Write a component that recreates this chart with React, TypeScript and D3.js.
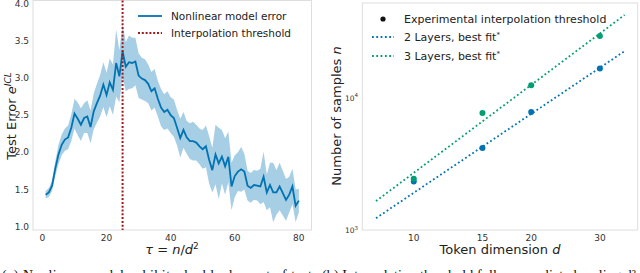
import React from "react";
import * as d3 from "d3";

// left panel: mean test error and spread, one value per tau = 1..80
const errMean = [
  1.43, 1.46, 1.55, 1.78, 1.97, 2.1, 2.17, 2.2, 2.33, 2.52,
  2.45, 2.37, 2.46, 2.48, 2.34, 2.55, 2.66, 2.76, 2.91, 2.77,
  2.94, 2.84, 3.2, 3.02, 3.36, 3.15, 3.21, 3.2, 3.22, 3.03,
  2.99, 2.97, 2.92, 2.82, 2.86, 2.72, 2.6, 2.54, 2.57, 2.5,
  2.46, 2.33, 2.19, 2.3, 2.2, 2.15, 2.15, 2.13, 2.08, 2.04,
  2.08, 1.9, 1.76, 1.97, 1.85, 1.94, 1.81, 1.94, 1.54, 1.68,
  1.74, 1.77, 1.74, 1.55, 1.52, 1.56, 1.55, 1.54, 1.67, 1.46,
  1.56, 1.46, 1.46, 1.54, 1.45, 1.36, 1.43, 1.54, 1.28, 1.35,
];
const errStd = [
  0.05, 0.06, 0.07, 0.1, 0.13, 0.14, 0.15, 0.16, 0.18, 0.2,
  0.22, 0.22, 0.2, 0.22, 0.22, 0.24, 0.26, 0.28, 0.3, 0.3,
  0.32, 0.34, 0.45, 0.35, 0.36, 0.33, 0.36, 0.34, 0.32, 0.3,
  0.28, 0.28, 0.26, 0.26, 0.26, 0.24, 0.25, 0.24, 0.25, 0.24,
  0.25, 0.24, 0.26, 0.24, 0.22, 0.24, 0.26, 0.24, 0.24, 0.26,
  0.28, 0.32, 0.3, 0.4, 0.48, 0.36, 0.38, 0.34, 0.32, 0.28,
  0.26, 0.3, 0.24, 0.2, 0.2, 0.2, 0.2, 0.24, 0.34, 0.24,
  0.3, 0.4, 0.3, 0.32, 0.3, 0.28, 0.24, 0.24, 0.22, 0.16,
];
const threshold = 25;
const leftXTicks = [0, 20, 40, 60, 80];
const leftYTicks = [1.0, 1.5, 2.0, 2.5, 3.0, 3.5, 4.0];

// right panel: interpolation threshold vs token dimension
const dims = [10, 15, 20, 30];
const n2Layers = [2330, 4170, 7800, 16640];
const n3Layers = [2445, 7680, 12450, 29250];
const fitDims = [8, 34.7];
const fit2Layers = [1228, 22490];
const fit3Layers = [1653, 42200];
const rightXTicks = [10, 15, 20, 30];
const rightYTicks = [1000, 10000];

const blue = "#0173b2";
const green = "#029e73";
const red = "#9e1a1a";
const tickColor = "#333";
const frameColor = "#dedede";
const font = "DejaVu Sans";

export default function App() {
  const xL = d3.scaleLinear().domain([-2.95, 83.95]).range([33, 311.5]);
  const yL = d3.scaleLinear().domain([0.955, 4.04]).range([230, 0.5]);

  const xR = d3.scaleLog().domain([7.38, 37.5]).range([362.3, 637.7]);
  const yR = d3.scaleLog().domain([1000, 52000]).range([230, 3]);

  const pts = errMean.map((m, i) => ({ t: i + 1, m, s: errStd[i] }));
  const line = d3
    .line<any>()
    .x((d) => xL(d.t))
    .y((d) => yL(d.m));
  const band = d3
    .area<any>()
    .x((d) => xL(d.t))
    .y0((d) => yL(d.m - d.s))
    .y1((d) => yL(d.m + d.s));

  const fitLine = d3
    .line<any>()
    .x((d) => xR(d[0]))
    .y((d) => yR(d[1]));

  return (
    <svg
      width={640}
      height={273}
      style={{ position: "absolute", left: 0, top: 0, background: "#fff" }}
      fontFamily={font}
    >
      {/* Left panel */}
      <rect
        x={33}
        y={0.5}
        width={311.5 - 33}
        height={229.5}
        fill="none"
        stroke={frameColor}
      />
      <path d={band(pts) || ""} fill={blue} fillOpacity={0.35} />
      <path d={line(pts) || ""} fill="none" stroke={blue} strokeWidth={1.8} />
      <line
        x1={xL(threshold)}
        x2={xL(threshold)}
        y1={0.5}
        y2={230}
        stroke={red}
        strokeWidth={2}
        strokeDasharray="2 1.8"
      />
      {leftXTicks.map((t) => (
        <text key={t} x={xL(t)} y={240.5} fontSize={9} fill={tickColor} textAnchor="middle">
          {t}
        </text>
      ))}
      {leftYTicks.map((t) => (
        <text key={t} x={29} y={yL(t) + 3.2} fontSize={9} fill={tickColor} textAnchor="end">
          {t.toFixed(1)}
        </text>
      ))}
      <text x={172} y={254} fontSize={13} textAnchor="middle" fill="#222">
        <tspan fontStyle="italic">τ</tspan> = <tspan fontStyle="italic">n</tspan>/
        <tspan fontStyle="italic">d</tspan>
        <tspan fontSize={9} dy={-5}>2</tspan>
      </text>
      <text transform="translate(16,116) rotate(-90)" fontSize={13} textAnchor="middle" fill="#222">
        Test Error <tspan fontStyle="italic">e</tspan>
        <tspan fontSize={9} dy={-5} fontStyle="italic">ICL</tspan>
      </text>
      {/* left legend */}
      <line x1={138} x2={162} y1={16} y2={16} stroke={blue} strokeWidth={1.8} />
      <text x={171} y={19.7} fontSize={10.5} fill="#222">
        Nonlinear model error
      </text>
      <line
        x1={138}
        x2={162}
        y1={33}
        y2={33}
        stroke={red}
        strokeWidth={2}
        strokeDasharray="2 1.8"
      />
      <text x={171} y={36.7} fontSize={10.5} fill="#222">
        Interpolation threshold
      </text>

      {/* Right panel */}
      <rect
        x={362.3}
        y={3}
        width={637.7 - 362.3}
        height={227}
        fill="none"
        stroke={frameColor}
      />
      <path
        d={fitLine(fitDims.map((d, i) => [d, fit2Layers[i]])) || ""}
        fill="none"
        stroke={blue}
        strokeWidth={1.8}
        strokeDasharray="1.8 2.5"
      />
      <path
        d={fitLine(fitDims.map((d, i) => [d, fit3Layers[i]])) || ""}
        fill="none"
        stroke={green}
        strokeWidth={1.8}
        strokeDasharray="1.8 2.5"
      />
      {dims.map((d, i) => (
        <circle key={"b" + d} cx={xR(d)} cy={yR(n2Layers[i])} r={3} fill={blue} />
      ))}
      {dims.map((d, i) => (
        <circle key={"g" + d} cx={xR(d)} cy={yR(n3Layers[i])} r={3} fill={green} />
      ))}
      {rightXTicks.map((t) => (
        <text key={t} x={xR(t)} y={241} fontSize={9} fill={tickColor} textAnchor="middle">
          {t}
        </text>
      ))}
      {rightYTicks.map((t) => (
        <text key={t} x={358} y={yR(t) + 3} fontSize={7.5} fill={tickColor} textAnchor="end">
          10<tspan fontSize={5.5} dy={-3.5}>{Math.round(Math.log10(t))}</tspan>
        </text>
      ))}
      <text x={500} y={254} fontSize={13} textAnchor="middle" fill="#222">
        Token dimension <tspan fontStyle="italic">d</tspan>
      </text>
      <text transform="translate(341,116) rotate(-90)" fontSize={13} textAnchor="middle" fill="#222">
        Number of samples <tspan fontStyle="italic">n</tspan>
      </text>
      {/* right legend */}
      <circle cx={383} cy={19} r={2.6} fill="#111" />
      <text x={404} y={22.8} fontSize={11} fill="#222">
        Experimental interpolation threshold
      </text>
      <line
        x1={372}
        x2={394}
        y1={37}
        y2={37}
        stroke={blue}
        strokeWidth={1.8}
        strokeDasharray="1.8 2.5"
      />
      <text x={404} y={40.8} fontSize={11} fill="#222">
        2 Layers, best fit<tspan fontSize={7} dy={-4}>*</tspan>
      </text>
      <line
        x1={372}
        x2={394}
        y1={56}
        y2={56}
        stroke={green}
        strokeWidth={1.8}
        strokeDasharray="1.8 2.5"
      />
      <text x={404} y={59.8} fontSize={11} fill="#222">
        3 Layers, best fit<tspan fontSize={7} dy={-4}>*</tspan>
      </text>

      {/* captions, cut off at the bottom edge */}
      <text x={2} y={279.5} fontSize={14} fontFamily="Liberation Serif" fill="#111" textLength={310} lengthAdjust="spacing">
        (a) Nonlinear model exhibits double descent of test
      </text>
      <text x={322} y={279.5} fontSize={14} fontFamily="Liberation Serif" fill="#111" textLength={314} lengthAdjust="spacing">
        (b) Interpolation threshold follows predicted scaling d²
      </text>
    </svg>
  );
}
